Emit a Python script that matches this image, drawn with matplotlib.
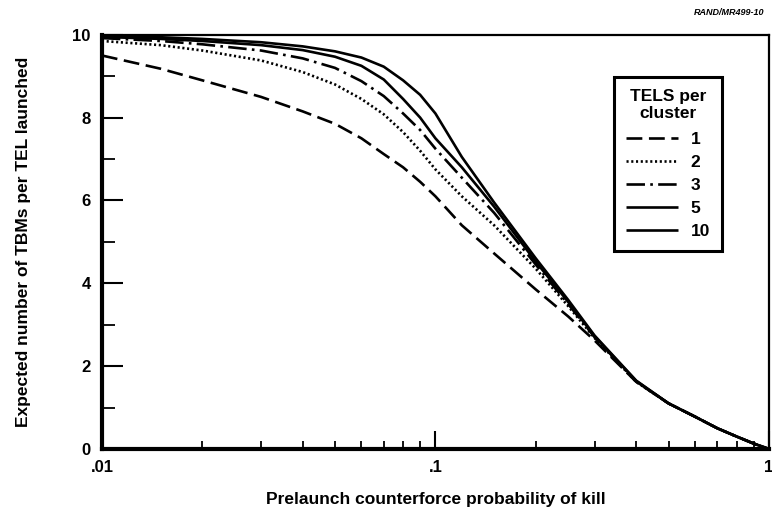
import matplotlib
matplotlib.use("Agg")
import matplotlib.pyplot as plt
from matplotlib.ticker import FixedLocator, NullFormatter

plt.rcParams['font.family'] = ['Liberation Sans', 'DejaVu Sans']
plt.rcParams['font.weight'] = 'bold'

# prelaunch probability of kill
pk = [.01, .015, .02, .03, .04, .05, .06, .07, .08, .09, .1, .12, .15, .2,
      .25, .3, .4, .5, .6, .7, .8, .9, 1.0]

# expected TBMs per TEL launched, by TELs per cluster
tels_1 = [9.5, 9.18, 8.9, 8.5, 8.15, 7.85, 7.5, 7.12, 6.8, 6.45, 6.1, 5.4,
          4.72, 3.85, 3.2, 2.62, 1.62, 1.1, 0.78, 0.5, 0.3, 0.13, 0.0]
tels_2 = [9.85, 9.75, 9.62, 9.38, 9.1, 8.8, 8.45, 8.08, 7.65, 7.2, 6.75, 6.1,
          5.4, 4.35, 3.45, 2.68, 1.62, 1.1, 0.78, 0.5, 0.3, 0.13, 0.0]
tels_3 = [9.92, 9.85, 9.77, 9.62, 9.43, 9.2, 8.88, 8.52, 8.1, 7.7, 7.25, 6.55,
          5.7, 4.45, 3.5, 2.7, 1.63, 1.1, 0.78, 0.5, 0.3, 0.13, 0.0]
tels_5 = [9.95, 9.9, 9.85, 9.75, 9.63, 9.47, 9.25, 8.92, 8.45, 8.0, 7.5, 6.8,
          5.85, 4.52, 3.55, 2.72, 1.64, 1.1, 0.78, 0.5, 0.3, 0.13, 0.0]
tels_10 = [9.97, 9.94, 9.9, 9.82, 9.72, 9.6, 9.45, 9.23, 8.9, 8.55, 8.1, 7.05,
           5.95, 4.6, 3.6, 2.74, 1.65, 1.1, 0.78, 0.5, 0.3, 0.13, 0.0]

series = [tels_1, tels_2, tels_3, tels_5, tels_10]
labels = ['1', '2', '3', '5', '10']
styles = [(0, (6, 2.5)), (0, (0.8, 1.0)), (0, (7, 2, 1, 2)), '-', '-']

fig = plt.figure(figsize=(7.72, 5.19), dpi=100)
ax = fig.add_axes([0.132, 0.135, 0.864, 0.798])

for y, lab, ls in zip(series, labels, styles):
    ax.plot(pk, y, color='black', linestyle=ls, linewidth=1.9, label=lab,
            solid_capstyle='butt')

ax.set_xscale('log')
ax.set_xlim(0.01, 1)
ax.set_ylim(0, 10)

ax.xaxis.set_major_locator(FixedLocator([.01, .1, 1]))
ax.set_xticklabels(['.01', '.1', '1'])
minors = [m * d for d in (.01, .1) for m in range(2, 10)]
ax.xaxis.set_minor_locator(FixedLocator(minors))
ax.xaxis.set_minor_formatter(NullFormatter())
ax.set_yticks([0, 2, 4, 6, 8, 10])
ax.yaxis.set_minor_locator(FixedLocator([1, 3, 5, 7, 9]))

ax.tick_params(axis='both', which='major', direction='in', width=1.5,
               labelsize=12, pad=8)
ax.tick_params(axis='x', which='major', length=13)
ax.tick_params(axis='y', which='major', length=15)
ax.tick_params(axis='both', which='minor', direction='in', width=1.3)
ax.tick_params(axis='x', which='minor', length=6)
ax.tick_params(axis='y', which='minor', length=9)

ax.spines['left'].set_linewidth(3)
ax.spines['bottom'].set_linewidth(3)
ax.spines['top'].set_linewidth(1.6)
ax.spines['right'].set_linewidth(1.6)

ax.set_xlabel('Prelaunch counterforce probability of kill', fontsize=12.5,
              fontweight='bold', labelpad=12)
ax.set_ylabel('Expected number of TBMs per TEL launched', fontsize=12.5,
              fontweight='bold', labelpad=30)

leg = ax.legend(title='TELS per\ncluster', loc='upper left',
                bbox_to_anchor=(0.755, 0.92), fontsize=12.5,
                title_fontsize=12.5, handlelength=3.0, handletextpad=0.7,
                labelspacing=0.45, borderpad=0.7, fancybox=False,
                framealpha=1, edgecolor='black')
leg.get_frame().set_linewidth(2.2)
leg.get_title().set_fontweight('bold')
leg.get_title().set_multialignment('center')
leg._legend_box.sep = 8
for t in leg.get_texts():
    t.set_fontweight('bold')

fig.text(0.99, 0.985, 'RAND/MR499-10', ha='right', va='top', fontsize=6.5,
         fontweight='bold', style='italic')

fig.savefig('out.png', dpi=100)
